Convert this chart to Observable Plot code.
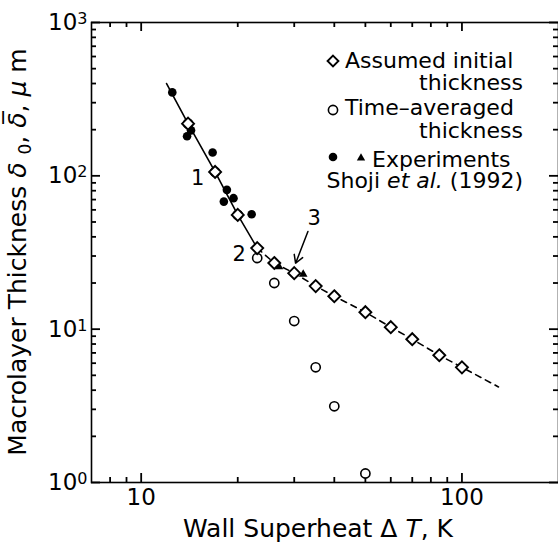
<!DOCTYPE html>
<html><head><meta charset="utf-8">
<script src="https://cdn.jsdelivr.net/npm/d3@7"></script>
<script src="https://cdn.jsdelivr.net/npm/@observablehq/plot@0.6"></script>
<style>body{margin:0;background:#fff}</style>
</head><body><div id="chart"></div>
<script>
// ---- axis ticks ----
const xMajor = [10, 100];
const xTickLabels = ["10", "100"];
const xMinor = [8, 9, 20, 30, 40, 50, 60, 70, 80, 90];
const yMajor = [1, 10, 100, 1000];
const yTickLabels = ["10^0", "10^1", "10^2", "10^3"];
const yMinor = [2,3,4,5,6,7,8,9,20,30,40,50,60,70,80,90,200,300,400,500,600,700,800,900];

// ---- data: assumed initial thickness (diamonds) ----
const initialDT    = [14, 17, 20, 23, 26, 30, 35, 40, 50, 60, 70, 85, 100];
const initialDelta = [219, 106, 55.6, 33.8, 27.0, 23.2, 19.1, 16.4, 12.9, 10.3, 8.6, 6.76, 5.64];
// ---- time-averaged thickness (open circles) ----
const avgDT    = [14, 17, 20, 23, 26, 30, 35, 40, 50];
const avgDelta = [219, 106, 55.6, 29.1, 20.0, 11.3, 5.64, 3.14, 1.145];
// ---- experiments, Shoji et al. (1992) ----
const expDT    = [12.5, 14.3, 13.9, 16.7, 18.5, 19.4, 18.1, 22.1];
const expDelta = [350, 198, 181, 142, 81, 71.5, 67.9, 56.2];
const triDT    = [26.9, 32];
const triDelta = [25.5, 22.8];
// ---- curves ----
const solidDT    = [12, 14, 17, 20, 23];
const solidDelta = [400, 219, 106, 55.6, 33.8];
const dashDT     = [23, 26, 30, 35, 40, 50, 60, 70, 85, 100, 130];
const dashDelta  = [33.8, 27.0, 23.2, 19.1, 16.4, 12.9, 10.3, 8.6, 6.76, 5.64, 4.2];
// ---- annotations ----
const annotLabels = ["1", "2", "3"];
const annotDT     = [15, 20.2, 34.6];
const annotDelta  = [96.6, 30.8, 53.1];
const arrowDT     = [33.1, 30.3];
const arrowDelta  = [43.3, 26.9];

const zip = (xs, ys) => xs.map((x, i) => ({x, y: ys[i]}));
const FONT = "DejaVu Sans";
const W = 558, H = 549, ML = 91, MR = 0, MT = 22, MB = 67;
const PW = W - ML - MR, PH = H - MT - MB;
const MAJ = 9, MIN = 5;

// inward tick helpers (span only MAJ/MIN px from each frame edge)
const tx = (vals, len, side) => Plot.tickX(vals, {x: d => d, stroke: "black", strokeWidth: 1.8,
  insetTop: side === "bottom" ? PH - len : 0, insetBottom: side === "top" ? PH - len : 0});
const ty = (vals, len, side) => Plot.tickY(vals, {y: d => d, stroke: "black", strokeWidth: 1.8,
  insetRight: side === "left" ? PW - len : 0, insetLeft: side === "right" ? PW - len : 0});

const chart = Plot.plot({
  width: W, height: H,
  marginLeft: ML, marginRight: MR, marginTop: MT, marginBottom: MB,
  x: {type: "log", domain: [7, 200]},
  y: {type: "log", domain: [1, 1000]},
  style: {fontFamily: FONT, color: "black", background: "white", overflow: "visible"},
  marks: [
    Plot.frame({stroke: "black", strokeWidth: 1.6}),
    tx(xMajor, MAJ, "bottom"), tx(xMinor, MIN, "bottom"),
    tx(xMajor, MAJ, "top"), tx(xMinor, MIN, "top"),
    ty(yMajor, MAJ, "left"), ty(yMinor, MIN, "left"),
    ty(yMajor, MAJ, "right"), ty(yMinor, MIN, "right"),
    // tick labels
    Plot.axisX(xMajor, {anchor: "bottom", tickSize: 0, tickPadding: 6, fontSize: 23,
      tickFormat: d => xTickLabels[xMajor.indexOf(d)], label: null}),
    Plot.axisY(yMajor, {anchor: "left", tickSize: 0, tickPadding: 4, fontSize: 23,
      tickFormat: d => yTickLabels[yMajor.indexOf(d)], label: null}),
    // curves
    Plot.line(zip(solidDT, solidDelta), {x: "x", y: "y", stroke: "black", strokeWidth: 1.6}),
    Plot.line(zip(dashDT, dashDelta), {x: "x", y: "y", stroke: "black", strokeWidth: 1.6, strokeDasharray: "6,5"}),
    // points
    Plot.dot(zip(expDT, expDelta), {x: "x", y: "y", r: 4.3, fill: "black", stroke: "none"}),
    Plot.dot(zip(triDT, triDelta), {x: "x", y: "y", r: 3.2, symbol: "triangle", fill: "black", stroke: "none"}),
    Plot.dot(zip(avgDT, avgDelta), {x: "x", y: "y", r: 4.6, fill: "white", stroke: "black", strokeWidth: 1.6}),
    Plot.dot(zip(initialDT, initialDelta), {x: "x", y: "y", r: 5.4, symbol: "diamond2", fill: "white", stroke: "black", strokeWidth: 1.9}),
    // annotations
    Plot.text(annotLabels.map((t, i) => ({t, x: annotDT[i], y: annotDelta[i]})),
      {x: "x", y: "y", text: "t", fontSize: 21, fill: "black"}),
    Plot.arrow([{x1: arrowDT[0], y1: arrowDelta[0], x2: arrowDT[1], y2: arrowDelta[1]}],
      {x1: "x1", y1: "y1", x2: "x2", y2: "y2", stroke: "black", strokeWidth: 1.5, headLength: 9})
  ]
});
document.getElementById("chart").appendChild(chart);

const svg = d3.select(chart);

// superscript exponents on y tick labels
svg.selectAll('g[aria-label="y-axis tick label"] text').each(function () {
  const s = this.textContent.split("^");
  const t = d3.select(this);
  t.text(null);
  t.append("tspan").text(s[0]);
  t.append("tspan").attr("dy", "-6").attr("font-size", "16px").text(s[1]);
});

// x axis title
const xt = svg.append("text").attr("x", 318).attr("y", 537).attr("text-anchor", "middle")
  .attr("font-family", FONT).attr("font-size", 25).attr("fill", "black");
xt.append("tspan").text("Wall Superheat \u0394 ");
xt.append("tspan").attr("font-style", "italic").text("T");
xt.append("tspan").text(", K");

// y axis title
const yt = svg.append("text").attr("transform", "translate(26,252) rotate(-90)")
  .attr("text-anchor", "middle").attr("font-family", FONT).attr("font-size", 25).attr("fill", "black");
yt.append("tspan").text("Macrolayer Thickness ");
yt.append("tspan").attr("font-style", "italic").text("\u03b4 ");
yt.append("tspan").attr("font-size", 17).attr("dy", 5).text("0");
yt.append("tspan").attr("dy", -5).text(", ");
yt.append("tspan").attr("font-style", "italic").text("\u03b4\u0305");
yt.append("tspan").text(", ");
yt.append("tspan").attr("font-style", "italic").text("\u03bc");
yt.append("tspan").text(" m");

// legend
const lg = svg.append("g").attr("font-family", FONT).attr("font-size", 22).attr("fill", "black")
  .attr("text-anchor", "start");
lg.append("path").attr("transform", "translate(333,61)")
  .attr("d", d3.symbol(d3.symbolDiamond2, 75)()).attr("fill", "white").attr("stroke", "black").attr("stroke-width", 1.9);
lg.append("text").attr("x", 345).attr("y", 68).attr("text-anchor", "start").text("Assumed initial");
lg.append("text").attr("x", 523).attr("y", 90).attr("text-anchor", "end").text("thickness");
lg.append("circle").attr("cx", 333).attr("cy", 110).attr("r", 4.6).attr("fill", "white").attr("stroke", "black").attr("stroke-width", 1.6);
lg.append("text").attr("x", 345).attr("y", 115).attr("text-anchor", "start").text("Time\u2013averaged");
lg.append("text").attr("x", 523).attr("y", 138).attr("text-anchor", "end").text("thickness");
lg.append("circle").attr("cx", 333).attr("cy", 157).attr("r", 4.3).attr("fill", "black");
lg.append("path").attr("transform", "translate(361,158)").attr("d", d3.symbol(d3.symbolTriangle, 30)()).attr("fill", "black");
lg.append("text").attr("x", 372).attr("y", 167).attr("text-anchor", "start").text("Experiments");
const sh = lg.append("text").attr("x", 523).attr("y", 188).attr("text-anchor", "end");
sh.append("tspan").text("Shoji ");
sh.append("tspan").attr("font-style", "italic").text("et al.");
sh.append("tspan").text(" (1992)");
</script>
</body></html>
